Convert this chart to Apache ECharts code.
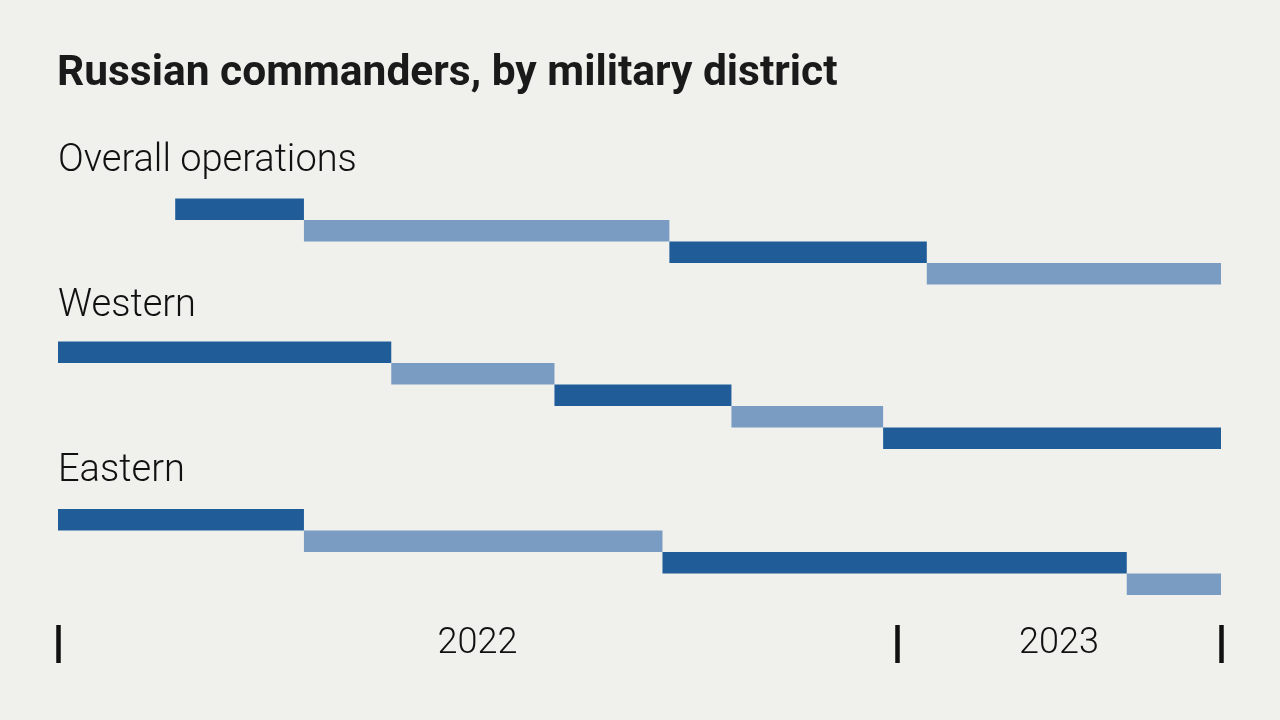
<!DOCTYPE html>
<html>
<head>
<meta charset="utf-8">
<script src="https://cdn.jsdelivr.net/npm/echarts@6/dist/echarts.min.js"></script>
<style>
  html, body { margin: 0; padding: 0; background: #f0f0ed; }
  #chart { width: 1280px; height: 720px; }
</style>
</head>
<body>
<div id="chart"></div>
<script>
// ---- Data ----
const chartTitle = 'Russian commanders, by military district';
const districts = ['Overall operations', 'Western', 'Eastern'];

// Each commander's tenure: [start, end]
const overallTenures = [
  ['2022-02-21', '2022-04-18'],
  ['2022-04-18', '2022-09-24'],
  ['2022-09-24', '2023-01-14'],
  ['2023-01-14', '2023-05-22']
];
const westernTenures = [
  ['2022-01-01', '2022-05-26'],
  ['2022-05-26', '2022-08-05'],
  ['2022-08-05', '2022-10-21'],
  ['2022-10-21', '2022-12-26'],
  ['2022-12-26', '2023-05-22']
];
const easternTenures = [
  ['2022-01-01', '2022-04-18'],
  ['2022-04-18', '2022-09-21'],
  ['2022-09-21', '2023-04-11'],
  ['2023-04-11', '2023-05-22']
];

const axisStart = '2022-01-01';
const axisEnd = '2023-05-22';
const tickDates = ['2022-01-01', '2023-01-01', '2023-05-22'];
const yearLabels = ['2022', '2023'];

// ---- Helpers ----
function ts(s) { const [y, m, d] = s.split('-').map(Number); return new Date(y, m - 1, d).getTime(); }
const DARK = '#1f5c98';
const LIGHT = '#7a9cc2';

const groups = [overallTenures, westernTenures, easternTenures];
const gridTops = [198.5, 341.5, 509];
const rowH = 21.5;
const minT = ts(axisStart), maxT = ts(axisEnd);
const tickTs = tickDates.map(ts);
// label positions: middle of each year segment
const labelTs = yearLabels.map((y, i) => (tickTs[i] + tickTs[i + 1]) / 2);

function renderItem(params, api) {
  const row = api.value(2);
  const s = api.coord([api.value(0), row]);
  const e = api.coord([api.value(1), row]);
  const h = api.size([0, 1])[1];
  return {
    type: 'rect',
    shape: { x: s[0], y: s[1] - h / 2, width: e[0] - s[0], height: h },
    style: { fill: row % 2 === 0 ? DARK : LIGHT }
  };
}

const grids = [], xAxes = [], yAxes = [], series = [];
groups.forEach((g, gi) => {
  grids.push({ left: 58, right: 59, top: gridTops[gi], height: rowH * g.length });
  const isLast = gi === groups.length - 1;
  xAxes.push({
    type: 'value', gridIndex: gi, min: minT, max: maxT,
    show: isLast,
    position: 'bottom',
    offset: isLast ? 30 : 0,
    axisLine: { show: false },
    splitLine: { show: false },
    axisTick: isLast ? {
      show: true, inside: false, length: 38, customValues: tickTs,
      lineStyle: { color: '#111', width: 4.5 }
    } : { show: false },
    axisLabel: isLast ? {
      show: true, customValues: labelTs,
      formatter: v => yearLabels[labelTs.indexOf(v)] || String(new Date(v).getFullYear()),
      fontFamily: 'Roboto', fontWeight: 300, fontSize: 36, color: '#111',
      verticalAlign: 'middle', margin: 19
    } : { show: false }
  });
  yAxes.push({
    type: 'category', gridIndex: gi, inverse: true, show: false,
    data: g.map((_, i) => String(i))
  });
  series.push({
    type: 'custom', xAxisIndex: gi, yAxisIndex: gi,
    renderItem: renderItem,
    encode: { x: [0, 1], y: 2 },
    data: g.map((t, i) => [ts(t[0]), ts(t[1]), i]),
    silent: true
  });
});

const labelYs = [161, 306, 471];
const graphics = [{
  type: 'text', x: 57, y: 74,
  style: { text: chartTitle, fontFamily: 'Roboto', fontWeight: 'bold', fontSize: 42.5, fill: '#1a1a1a', verticalAlign: 'middle' }
}].concat(districts.map((d, i) => ({
  type: 'text', x: 58, y: labelYs[i],
  style: { text: d, fontFamily: 'Roboto', fontWeight: 300, fontSize: 38, fill: '#111', verticalAlign: 'middle' }
})));

const chart = echarts.init(document.getElementById('chart'), null, { renderer: 'canvas' });
chart.setOption({
  backgroundColor: '#f0f0ed',
  animation: false,
  grid: grids,
  xAxis: xAxes,
  yAxis: yAxes,
  series: series,
  graphic: graphics
});
</script>
</body>
</html>
